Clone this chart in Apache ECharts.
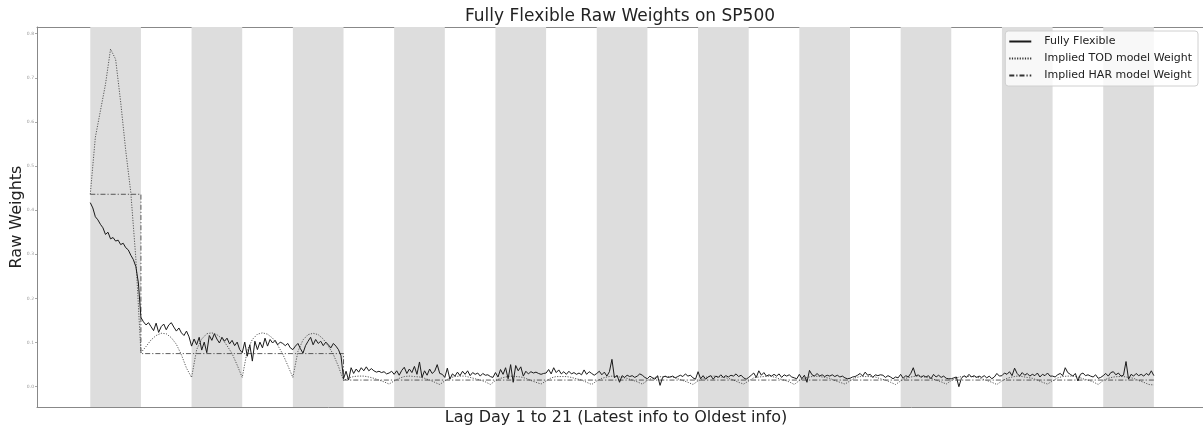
<!DOCTYPE html>
<html>
<head>
<meta charset="utf-8">
<script src="https://cdn.jsdelivr.net/npm/echarts@6/dist/echarts.min.js"></script>
<style>
    html, body { margin: 0; padding: 0; background: #fff; }
    #main { width: 1203px; height: 426px; }
</style>
</head>
<body>
<div id="main"></div>
<script type="text/javascript">

    // 21 lag days, day 1 = latest info
    const dayCount = 21;
    // shaded days (odd days)
    const bandDays = [1, 3, 5, 7, 9, 11, 13, 15, 17, 19, 21];
    const yTicks = [0, 0.1, 0.2, 0.3, 0.4, 0.5, 0.6, 0.7, 0.8];

    // Fully Flexible weights, 20 intraday points per day
    const ffDays = [
        [0.417, 0.405, 0.385, 0.378, 0.368, 0.360, 0.345, 0.350, 0.335, 0.338, 0.330, 0.332, 0.322, 0.325, 0.315, 0.310, 0.298, 0.288, 0.272, 0.235],
        [0.157, 0.147, 0.140, 0.145, 0.136, 0.127, 0.144, 0.123, 0.136, 0.142, 0.129, 0.140, 0.145, 0.135, 0.126, 0.133, 0.122, 0.116, 0.126, 0.113],
        [0.092, 0.108, 0.095, 0.112, 0.083, 0.101, 0.077, 0.116, 0.105, 0.120, 0.108, 0.099, 0.112, 0.103, 0.110, 0.097, 0.105, 0.093, 0.101, 0.084],
        [0.077, 0.101, 0.069, 0.095, 0.058, 0.103, 0.084, 0.101, 0.088, 0.110, 0.092, 0.107, 0.099, 0.105, 0.095, 0.101, 0.098, 0.093, 0.098, 0.088],
        [0.084, 0.092, 0.098, 0.086, 0.076, 0.093, 0.103, 0.112, 0.095, 0.107, 0.098, 0.103, 0.093, 0.101, 0.095, 0.088, 0.098, 0.092, 0.084, 0.070],
        [0.018, 0.035, 0.015, 0.043, 0.030, 0.040, 0.033, 0.043, 0.036, 0.045, 0.036, 0.041, 0.036, 0.033, 0.035, 0.032, 0.034, 0.029, 0.031, 0.035],
        [0.028, 0.036, 0.026, 0.037, 0.044, 0.030, 0.040, 0.032, 0.046, 0.028, 0.056, 0.021, 0.036, 0.026, 0.040, 0.030, 0.035, 0.050, 0.030, 0.028],
        [0.021, 0.042, 0.017, 0.029, 0.024, 0.033, 0.025, 0.035, 0.028, 0.036, 0.025, 0.032, 0.028, 0.031, 0.024, 0.030, 0.026, 0.027, 0.023, 0.021],
        [0.032, 0.022, 0.039, 0.028, 0.043, 0.018, 0.050, 0.010, 0.048, 0.036, 0.045, 0.024, 0.035, 0.029, 0.034, 0.031, 0.033, 0.030, 0.028, 0.030],
        [0.031, 0.039, 0.029, 0.043, 0.032, 0.038, 0.029, 0.034, 0.028, 0.035, 0.029, 0.032, 0.028, 0.031, 0.027, 0.038, 0.028, 0.034, 0.030, 0.026],
        [0.030, 0.035, 0.027, 0.033, 0.024, 0.034, 0.062, 0.020, 0.026, 0.010, 0.025, 0.021, 0.026, 0.023, 0.025, 0.021, 0.024, 0.029, 0.026, 0.021],
        [0.018, 0.024, 0.020, 0.017, 0.025, 0.003, 0.021, 0.024, 0.021, 0.022, 0.024, 0.020, 0.023, 0.026, 0.023, 0.029, 0.024, 0.026, 0.020, 0.017],
        [0.034, 0.018, 0.025, 0.017, 0.022, 0.025, 0.017, 0.024, 0.021, 0.027, 0.021, 0.025, 0.022, 0.026, 0.024, 0.029, 0.023, 0.026, 0.020, 0.017],
        [0.021, 0.026, 0.031, 0.021, 0.036, 0.026, 0.032, 0.024, 0.027, 0.024, 0.028, 0.024, 0.029, 0.021, 0.027, 0.024, 0.027, 0.022, 0.020, 0.018],
        [0.028, 0.018, 0.026, 0.010, 0.037, 0.027, 0.024, 0.030, 0.024, 0.027, 0.023, 0.026, 0.024, 0.027, 0.023, 0.026, 0.022, 0.024, 0.020, 0.018],
        [0.019, 0.022, 0.023, 0.026, 0.030, 0.024, 0.033, 0.026, 0.028, 0.021, 0.027, 0.025, 0.027, 0.026, 0.021, 0.025, 0.022, 0.018, 0.022, 0.020],
        [0.028, 0.019, 0.025, 0.022, 0.030, 0.043, 0.024, 0.027, 0.021, 0.025, 0.022, 0.025, 0.018, 0.028, 0.022, 0.026, 0.021, 0.024, 0.019, 0.018],
        [0.018, 0.020, 0.022, 0.000, 0.019, 0.025, 0.021, 0.028, 0.022, 0.025, 0.021, 0.024, 0.021, 0.025, 0.020, 0.024, 0.018, 0.022, 0.030, 0.024],
        [0.025, 0.031, 0.028, 0.034, 0.025, 0.042, 0.030, 0.024, 0.032, 0.026, 0.030, 0.024, 0.028, 0.025, 0.031, 0.022, 0.028, 0.025, 0.031, 0.024],
        [0.024, 0.022, 0.027, 0.030, 0.025, 0.043, 0.032, 0.028, 0.024, 0.030, 0.013, 0.028, 0.031, 0.025, 0.027, 0.024, 0.022, 0.027, 0.019, 0.021],
        [0.025, 0.030, 0.024, 0.032, 0.034, 0.027, 0.031, 0.024, 0.026, 0.057, 0.017, 0.028, 0.024, 0.030, 0.025, 0.028, 0.024, 0.030, 0.026, 0.036]
    ];
    const ffLast = 0.025;

    // Implied TOD model weights, 10 intraday points per day
    const todDays = [
        [0.436, 0.565, 0.625, 0.685, 0.765, 0.742, 0.645, 0.535, 0.440, 0.290],
        [0.077, 0.091, 0.106, 0.116, 0.121, 0.120, 0.111, 0.096, 0.072, 0.042],
        [0.021, 0.084, 0.108, 0.120, 0.122, 0.118, 0.109, 0.093, 0.075, 0.049],
        [0.021, 0.082, 0.107, 0.119, 0.122, 0.119, 0.110, 0.094, 0.074, 0.048],
        [0.021, 0.080, 0.106, 0.118, 0.121, 0.118, 0.108, 0.092, 0.073, 0.046],
        [0.014, 0.020, 0.023, 0.024, 0.024, 0.022, 0.019, 0.015, 0.011, 0.006],
        [0.013, 0.019, 0.023, 0.024, 0.023, 0.022, 0.019, 0.015, 0.010, 0.005],
        [0.013, 0.020, 0.023, 0.024, 0.024, 0.021, 0.018, 0.015, 0.011, 0.005],
        [0.014, 0.019, 0.022, 0.024, 0.023, 0.022, 0.019, 0.014, 0.010, 0.006],
        [0.013, 0.020, 0.023, 0.023, 0.023, 0.021, 0.018, 0.015, 0.010, 0.005],
        [0.013, 0.019, 0.022, 0.024, 0.023, 0.021, 0.019, 0.015, 0.011, 0.006],
        [0.014, 0.020, 0.022, 0.023, 0.023, 0.022, 0.018, 0.014, 0.010, 0.005],
        [0.013, 0.019, 0.023, 0.024, 0.023, 0.021, 0.019, 0.015, 0.010, 0.006],
        [0.013, 0.020, 0.022, 0.023, 0.024, 0.022, 0.018, 0.015, 0.011, 0.005],
        [0.014, 0.019, 0.022, 0.024, 0.023, 0.021, 0.019, 0.014, 0.010, 0.006],
        [0.013, 0.020, 0.023, 0.023, 0.023, 0.022, 0.018, 0.015, 0.010, 0.005],
        [0.013, 0.019, 0.022, 0.024, 0.024, 0.021, 0.019, 0.015, 0.011, 0.006],
        [0.014, 0.020, 0.023, 0.023, 0.023, 0.022, 0.018, 0.014, 0.010, 0.005],
        [0.013, 0.019, 0.022, 0.024, 0.023, 0.021, 0.019, 0.015, 0.010, 0.006],
        [0.013, 0.020, 0.023, 0.024, 0.024, 0.022, 0.018, 0.015, 0.011, 0.005],
        [0.014, 0.019, 0.022, 0.023, 0.023, 0.021, 0.019, 0.014, 0.010, 0.005]
    ];
    const todLast = 0.004;

    // Implied HAR model weights, one level per day
    const harDays = [0.436, 0.075, 0.075, 0.075, 0.075,
        0.015, 0.015, 0.015, 0.015, 0.015, 0.015, 0.015, 0.015,
        0.015, 0.015, 0.015, 0.015, 0.015, 0.015, 0.015, 0.015];

    // build [x, y] pairs, x in day units (day k spans k-1 .. k)
    function toPoints(days, last) {
        let pts = [];
        for (let d = 0; d < days.length; d++) {
            const n = days[d].length;
            for (let i = 0; i < n; i++) {
                pts.push([d + i / n, days[d][i]]);
            }
        }
        pts.push([days.length, last]);
        return pts;
    }

    let harPoints = [];
    for (let d = 0; d < harDays.length; d++) {
        harPoints.push([d, harDays[d]]);
    }
    harPoints.push([dayCount, harDays[harDays.length - 1]]);

    let bands = [];
    for (let i = 0; i < bandDays.length; i++) {
        bands.push([{ xAxis: bandDays[i] - 1 }, { xAxis: bandDays[i] }]);
    }

    let myChart = echarts.init(document.getElementById('main'));

    const frame = { show: true, onZero: false, lineStyle: { color: '#888', width: 1 } };

    let option = {
        animation: false,
        backgroundColor: '#fff',
        title: {
            text: 'Fully Flexible Raw Weights on SP500',
            left: 615,
            top: 3,
            textAlign: 'center',
            textStyle: {
                fontFamily: 'DejaVu Sans',
                fontSize: 17,
                fontWeight: 'normal',
                color: '#222'
            }
        },
        legend: {
            orient: 'vertical',
            right: 5,
            top: 31,
            itemWidth: 22,
            itemHeight: 8,
            itemGap: 6,
            padding: [5, 6, 5, 3],
            backgroundColor: 'rgba(255,255,255,0.8)',
            borderColor: '#d0d0d0',
            borderWidth: 1,
            borderRadius: 3,
            itemStyle: { opacity: 0 },
            textStyle: {
                fontFamily: 'DejaVu Sans',
                fontSize: 11,
                color: '#222',
                padding: [0, 0, 0, 8]
            },
            data: ['Fully Flexible', 'Implied TOD model Weight', 'Implied HAR model Weight']
        },
        grid: {
            left: 37,
            right: 0,
            top: 27,
            bottom: 19,
            containLabel: false,
            outerBoundsMode: 'none'
        },
        xAxis: [{
            type: 'value',
            min: -1.052,
            max: 21.97,
            name: 'Lag Day 1 to 21 (Latest info to Oldest info)',
            nameLocation: 'middle',
            nameGap: 3,
            nameTextStyle: {
                fontFamily: 'DejaVu Sans',
                fontSize: 16,
                color: '#222',
                verticalAlign: 'top',
                padding: [0, 8, 0, 0]
            },
            axisLine: frame,
            axisTick: { show: false },
            axisLabel: { show: false },
            splitLine: { show: false }
        }, {
            type: 'value',
            position: 'top',
            min: -1.052,
            max: 21.97,
            axisLine: frame,
            axisTick: { show: false },
            axisLabel: { show: false },
            splitLine: { show: false }
        }],
        yAxis: {
            type: 'value',
            min: -0.046,
            max: 0.815,
            name: 'Raw Weights',
            nameLocation: 'middle',
            nameGap: 12,
            nameMoveOverlap: false,
            nameTextStyle: {
                fontFamily: 'DejaVu Sans',
                fontSize: 16,
                color: '#222',
                verticalAlign: 'bottom'
            },
            axisLine: frame,
            axisTick: {
                show: true,
                length: 2,
                lineStyle: { color: '#aaa' },
                customValues: yTicks
            },
            axisLabel: {
                fontFamily: 'DejaVu Sans',
                fontSize: 4.5,
                color: '#999',
                margin: 3,
                customValues: yTicks,
                formatter: function (v) { return v.toFixed(1); }
            },
            splitLine: { show: false }
        },
        series: [
            {
                // shaded day bands
                name: 'bands',
                type: 'line',
                data: [],
                z: 0,
                silent: true,
                markArea: {
                    silent: true,
                    itemStyle: { color: '#dddddd' },
                    data: bands
                }
            },
            {
                name: 'Fully Flexible',
                type: 'line',
                data: toPoints(ffDays, ffLast),
                symbol: 'none',
                z: 4,
                color: '#555',
                lineStyle: { color: '#1a1a1a', width: 1 }
            },
            {
                name: 'Implied TOD model Weight',
                type: 'line',
                data: toPoints(todDays, todLast),
                symbol: 'none',
                z: 3,
                color: '#333',
                lineStyle: { color: '#333', width: 0.8, type: [1.2, 1.4] }
            },
            {
                name: 'Implied HAR model Weight',
                type: 'line',
                data: harPoints,
                step: 'end',
                symbol: 'none',
                z: 3,
                color: '#333',
                lineStyle: { color: '#333', width: 0.8, type: [5, 2, 1.2, 2] }
            }
        ]
    };

    myChart.setOption(option);

</script>
</body>
</html>
